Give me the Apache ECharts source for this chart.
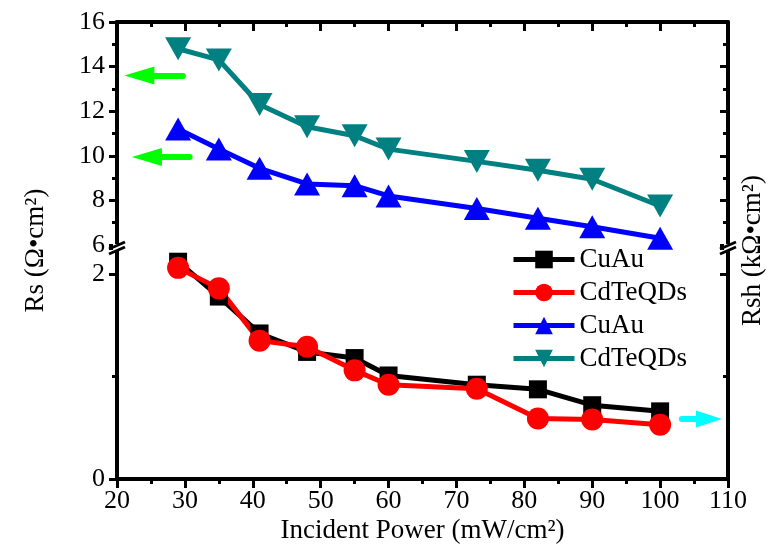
<!DOCTYPE html>
<html>
<head>
<meta charset="UTF-8">
<title>Rs / Rsh vs incident power</title>
<script src="https://cdn.jsdelivr.net/npm/echarts@6/dist/echarts.min.js"></script>
<style>
    html, body { margin: 0; padding: 0; background: #fff; }
    #chart { width: 774px; height: 557px; }
</style>
</head>
<body>
<div id="chart"></div>
<script>
// incident power (mW/cm2)
var power = [29, 35, 41, 48, 55, 60, 73, 82, 90, 100];
// lower segment (0 - 2.25)
var cuAuLow = [2.12, 1.78, 1.42, 1.24, 1.18, 1.01, 0.92, 0.875, 0.72, 0.66];
var cdTeLow = [2.06, 1.86, 1.35, 1.29, 1.06, 0.92, 0.88, 0.59, 0.58, 0.53];
// upper segment (6 - 16)
var cuAuHigh = [11.2, 10.3, 9.44, 8.74, 8.66, 8.2, 7.64, 7.2, 6.82, 6.3];
var cdTeHigh = [14.8, 14.3, 12.3, 11.3, 10.9, 10.3, 9.75, 9.35, 8.95, 7.75];

function pairs(ys) {
    return power.map(function (x, i) { return [x, ys[i]]; });
}

var font = '"Liberation Serif", "DejaVu Serif", serif';
var axisColor = '#000';

function xAx(grid, pos, labels) {
    return {
        type: 'value', gridIndex: grid, position: pos,
        min: 20, max: 110, interval: 10,
        axisLine: { show: true, lineStyle: { color: axisColor, width: 4 } },
        axisTick: { show: true, inside: !labels, length: 9, lineStyle: { width: 3, color: axisColor } },
        minorTick: { show: true, splitNumber: 2, length: 5, lineStyle: { width: 3, color: axisColor } },
        axisLabel: { show: labels, margin: 9, color: '#000', fontFamily: font, fontSize: 26 },
        splitLine: { show: false }
    };
}

function yAx(grid, pos, min, max, labels) {
    return {
        type: 'value', gridIndex: grid, position: pos,
        min: min, max: max, interval: 2,
        axisLine: { show: true, onZero: false, lineStyle: { color: axisColor, width: 4 } },
        axisTick: { show: true, inside: !labels, length: 8, lineStyle: { width: 3, color: axisColor } },
        minorTick: { show: true, splitNumber: 2, length: 5, lineStyle: { width: 3, color: axisColor } },
        axisLabel: { show: labels, margin: 12, color: '#000', fontFamily: font, fontSize: 26 },
        splitLine: { show: false }
    };
}

function lineSeries(name, color, symbol, size, rotate, xi, yi, data) {
    return {
        name: name, type: 'line', xAxisIndex: xi, yAxisIndex: yi,
        data: pairs(data),
        symbol: symbol, symbolSize: size, symbolRotate: rotate,
        lineStyle: { color: color, width: 5 },
        itemStyle: { color: color },
        clip: false,
        animation: false
    };
}

var chart = echarts.init(document.getElementById('chart'));

var xLow = xAx(1, 'bottom', true);
xLow.name = 'Incident Power (mW/cm²)';
xLow.nameLocation = 'middle';
xLow.nameGap = 38;
xLow.nameTextStyle = { fontFamily: font, fontSize: 27, color: '#000' };

var black = lineSeries('CuAu', '#000000', 'rect', 18, 0, 1, 2, cuAuLow);
var red = lineSeries('CdTeQDs', '#ff0000', 'circle', 22, 0, 1, 2, cdTeLow);
red.markLine = {
    silent: true, animation: false,
    symbol: ['none', 'triangle'], symbolSize: [17, 26],
    label: { show: false },
    lineStyle: { color: '#00ffff', width: 6, type: 'solid', cap: 'round' },
    data: [[{ coord: [103.2, 0.585] }, { coord: [107.2, 0.585] }]]
};
var blue = lineSeries('CuAu ', '#0000ff', 'triangle', [26, 23], 0, 0, 0, cuAuHigh);
var teal = lineSeries('CdTeQDs ', '#008080', 'triangle', [26, 23], 180, 0, 0, cdTeHigh);
teal.markLine = {
    silent: true, animation: false,
    symbol: ['none', 'triangle'], symbolSize: [18, 30],
    label: { show: false },
    lineStyle: { color: '#00ff00', width: 6, type: 'solid', cap: 'round' },
    data: [
        [{ coord: [29.7, 13.6] }, { coord: [23.3, 13.6] }],
        [{ coord: [30.7, 9.95] }, { coord: [24.4, 9.95] }]
    ]
};

function breakMark(x) {
    return [
        { type: 'rect', shape: { x: x - 4, y: 244, width: 8, height: 7 }, style: { fill: '#fff' }, z: 100 },
        { type: 'line', shape: { x1: x - 8, y1: 249, x2: x + 8, y2: 242 }, style: { stroke: '#000', lineWidth: 3 }, z: 101 },
        { type: 'line', shape: { x1: x - 8, y1: 254, x2: x + 8, y2: 247 }, style: { stroke: '#000', lineWidth: 3 }, z: 101 }
    ];
}

chart.setOption({
    backgroundColor: '#fff',
    animation: false,
    textStyle: { fontFamily: font },
    grid: [
        { left: 117, right: 46, top: 22, height: 223 },
        { left: 117, right: 46, top: 248.4, bottom: 78 },
        { left: 117, right: 46, top: 22, bottom: 78 }
    ],
    xAxis: [
        xAx(0, 'top', false),
        xLow,
        { type: 'value', gridIndex: 2, show: false, min: 20, max: 110 }
    ],
    yAxis: [
        yAx(0, 'left', 6, 16, true),
        yAx(0, 'right', 6, 16, false),
        yAx(1, 'left', 0, 2.25, true),
        yAx(1, 'right', 0, 2.25, false),
        {
            type: 'value', gridIndex: 2, position: 'left', min: 0, max: 1,
            axisLine: { show: false }, axisTick: { show: false }, axisLabel: { show: false }, splitLine: { show: false },
            name: 'Rs (Ω•cm²)', nameLocation: 'middle', nameGap: 68, nameRotate: 90,
            nameTextStyle: { fontFamily: font, fontSize: 27, color: '#000' }
        },
        {
            type: 'value', gridIndex: 2, position: 'right', min: 0, max: 1,
            axisLine: { show: false }, axisTick: { show: false }, axisLabel: { show: false }, splitLine: { show: false },
            name: 'Rsh (kΩ•cm²)', nameLocation: 'middle', nameGap: 14, nameRotate: 90,
            nameTextStyle: { fontFamily: font, fontSize: 27, color: '#000' }
        }
    ],
    legend: {
        orient: 'vertical',
        left: 506, top: 241,
        itemWidth: 61, itemHeight: 22, itemGap: 6,
        lineStyle: { width: 5 },
        textStyle: { fontFamily: font, fontSize: 27, color: '#000' },
        data: ['CuAu', 'CdTeQDs', 'CuAu ', 'CdTeQDs ']
    },
    series: [black, red, blue, teal],
    graphic: breakMark(117).concat(breakMark(728))
});
</script>
</body>
</html>
